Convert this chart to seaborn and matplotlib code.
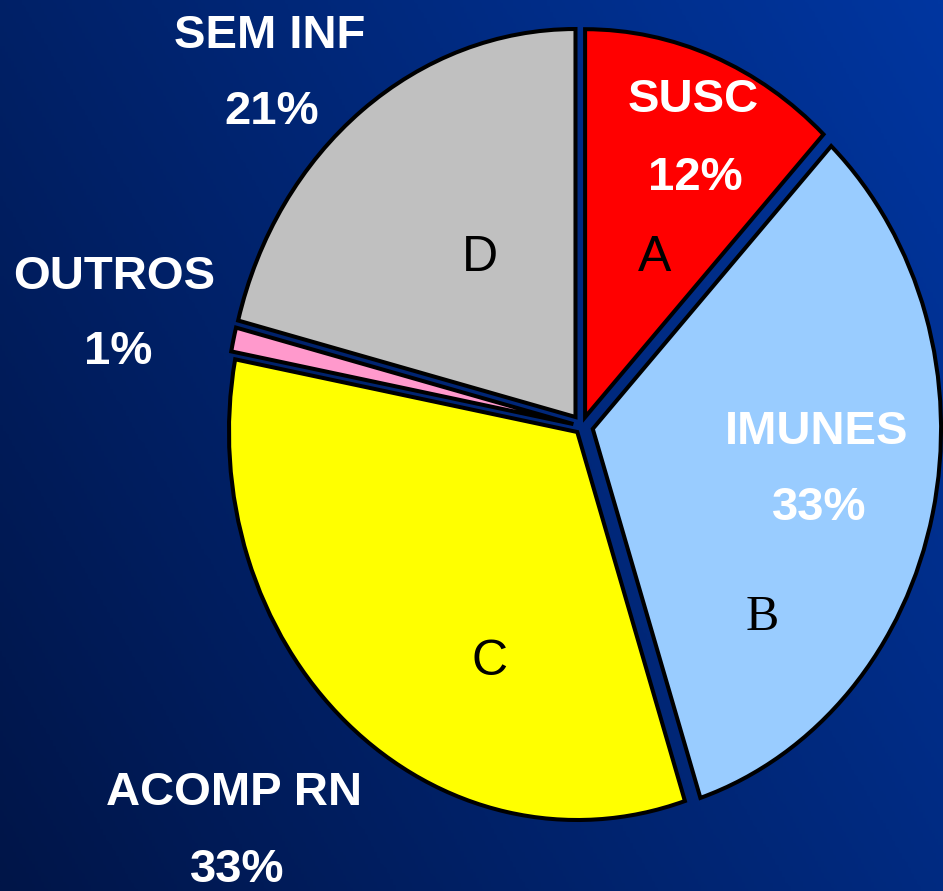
import numpy as np
import matplotlib
matplotlib.use("Agg")
import matplotlib.pyplot as plt
import seaborn as sns
from matplotlib.colors import LinearSegmentedColormap

# ---- data ----
categories = ["SUSC", "IMUNES", "ACOMP RN", "OUTROS", "SEM INF"]
values = [12, 33, 33, 1, 21]
pct_labels = ["12%", "33%", "33%", "1%", "21%"]
letters = ["A", "B", "C", "", "D"]
colors = ["#ff0000", "#99ccff", "#ffff00", "#ff99cc", "#c0c0c0"]
explode = [0.025, 0.032, 0.02, 0.025, 0.03]

sns.set_theme(style="white")
plt.rcParams["font.family"] = ["Liberation Sans", "DejaVu Sans"]

W, H = 943, 891
fig = plt.figure(figsize=(W / 100, H / 100), dpi=100)

# background gradient
bg = fig.add_axes([0, 0, 1, 1], zorder=0)
xn = np.linspace(0, 1, 300)
yn = np.linspace(0, 1, 300)
XX, YY = np.meshgrid(xn, yn)
T = 0.65 * XX + 0.35 * (1 - YY)
cmap = LinearSegmentedColormap.from_list("bgblue", ["#001548", "#0036a0"])
bg.imshow(T, cmap=cmap, aspect="auto", extent=[0, 1, 1, 0], vmin=0, vmax=1)
bg.set_axis_off()

ax = fig.add_axes([0, 0, 1, 1], zorder=1)
ax.patch.set_alpha(0)
wedges, _ = ax.pie(values, colors=colors, explode=explode, startangle=90,
                   counterclock=False,
                   wedgeprops=dict(edgecolor="black", linewidth=2.9))
ax.set_aspect("auto")
ax.set_xlim(-1.6707, 1.0368)
ax.set_ylim(-1.198, 1.0985)
ax.set_axis_off()

def fx(px):
    return px / W

def fy(py):
    return 1 - py / H

label_style = dict(color="white", fontsize=34, fontweight="bold",
                   ha="center", va="center")
# name / percent label positions (pixels)
name_pos = [(693, 100), (817, 432), (234, 793), (114, 277), (270, 36)]
pct_pos = [(695, 178), (819, 508), (237, 870), (118, 352), (272, 112)]
for name, pct, (nx, ny), (px, py) in zip(categories, pct_labels, name_pos, pct_pos):
    fig.text(fx(nx), fy(ny), name, **label_style)
    fig.text(fx(px), fy(py), pct, **label_style)

letter_pos = [(655, 258), (762, 618), (490, 662), None, (480, 258)]
for let, pos in zip(letters, letter_pos):
    if not let:
        continue
    fam = ["Liberation Serif", "DejaVu Serif"] if let == "B" else ["Liberation Sans", "DejaVu Sans"]
    fig.text(fx(pos[0]), fy(pos[1]), let, color="black", fontsize=36,
             family=fam, ha="center", va="center")

fig.savefig("out.png", dpi=100)
